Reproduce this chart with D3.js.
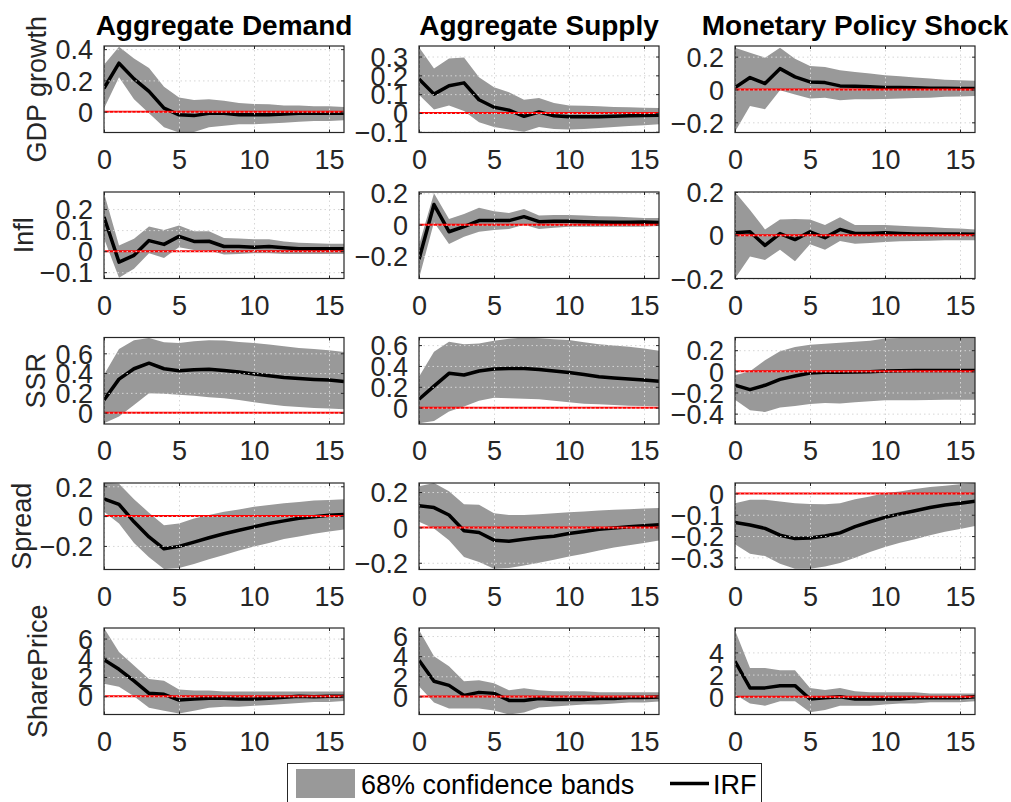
<!DOCTYPE html>
<html>
<head>
<meta charset="utf-8">
<script src="https://cdn.jsdelivr.net/npm/d3@7"></script>
<style>
  body { margin: 0; background: #fff; }
  text { font-family: "Liberation Sans", Arial, Helvetica, sans-serif; fill: #262626; }
</style>
</head>
<body>
<svg id="chart" width="1011" height="802"></svg>
<script>

// horizons (quarters after the shock)
var horizons = [0, 1, 2, 3, 4, 5, 6, 7, 8, 9, 10, 11, 12, 13, 14, 15, 16];
var xTicks = [0, 5, 10, 15];

var shocks    = ["Aggregate Demand", "Aggregate Supply", "Monetary Policy Shock"];
var variables = ["GDP growth", "Infl", "SSR", "Spread", "SharePrice"];

// ---- GDP growth ----
var gdpAD_irf = [0.15, 0.31, 0.21, 0.13, 0.023, -0.02, -0.025, -0.01, -0.01, -0.02, -0.02, -0.02, -0.015, -0.01, -0.01, -0.01, -0.01];
var gdpAD_hi  = [0.30, 0.415, 0.34, 0.28, 0.16, 0.09, 0.075, 0.08, 0.07, 0.055, 0.05, 0.048, 0.04, 0.04, 0.035, 0.035, 0.03];
var gdpAD_lo  = [0.02, 0.22, 0.08, -0.01, -0.10, -0.133, -0.13, -0.10, -0.09, -0.08, -0.08, -0.075, -0.07, -0.065, -0.06, -0.06, -0.055];

var gdpAS_irf = [0.18, 0.10, 0.145, 0.16, 0.07, 0.03, 0.015, -0.018, 0.005, -0.015, -0.02, -0.02, -0.02, -0.018, -0.015, -0.013, -0.012];
var gdpAS_hi  = [0.35, 0.237, 0.29, 0.295, 0.19, 0.137, 0.11, 0.07, 0.08, 0.053, 0.04, 0.038, 0.035, 0.032, 0.03, 0.028, 0.026];
var gdpAS_lo  = [0.097, 0.018, 0.04, 0.01, -0.05, -0.075, -0.088, -0.10, -0.075, -0.085, -0.088, -0.085, -0.08, -0.075, -0.07, -0.065, -0.06];

var gdpMP_irf = [0.012, 0.073, 0.036, 0.127, 0.077, 0.046, 0.042, 0.022, 0.02, 0.016, 0.012, 0.012, 0.01, 0.008, 0.007, 0.006, 0.006];
var gdpMP_hi  = [0.255, 0.224, 0.194, 0.255, 0.188, 0.143, 0.137, 0.117, 0.107, 0.097, 0.087, 0.08, 0.073, 0.067, 0.06, 0.056, 0.053];
var gdpMP_lo  = [-0.257, -0.10, -0.12, -0.004, -0.03, -0.055, -0.05, -0.065, -0.06, -0.059, -0.058, -0.055, -0.052, -0.05, -0.044, -0.042, -0.04];

// ---- Inflation ----
var inflAD_irf = [0.162, -0.052, -0.02, 0.05, 0.032, 0.07, 0.046, 0.047, 0.022, 0.022, 0.019, 0.022, 0.016, 0.011, 0.011, 0.011, 0.011];
var inflAD_hi  = [0.276, 0.027, 0.059, 0.117, 0.10, 0.122, 0.094, 0.094, 0.063, 0.06, 0.056, 0.056, 0.046, 0.04, 0.037, 0.035, 0.035];
var inflAD_lo  = [0.06, -0.127, -0.084, -0.01, -0.032, 0.019, 0.006, 0.003, -0.016, -0.013, -0.01, -0.01, -0.013, -0.013, -0.013, -0.013, -0.013];

var inflAS_irf = [-0.22, 0.128, -0.045, -0.013, 0.026, 0.026, 0.026, 0.051, 0.019, 0.021, 0.021, 0.019, 0.017, 0.015, 0.015, 0.017, 0.013];
var inflAS_hi  = [-0.13, 0.20, 0.036, 0.068, 0.107, 0.086, 0.075, 0.10, 0.058, 0.062, 0.062, 0.058, 0.054, 0.052, 0.047, 0.043, 0.043];
var inflAS_lo  = [-0.343, 0.015, -0.124, -0.077, -0.045, -0.034, -0.028, 0.0, -0.028, -0.02, -0.013, -0.013, -0.013, -0.013, -0.013, -0.013, -0.009];

var inflMP_irf = [0.011, 0.016, -0.047, 0.008, -0.02, 0.016, -0.011, 0.027, 0.008, 0.008, 0.011, 0.008, 0.006, 0.006, 0.006, 0.006, 0.005];
var inflMP_hi  = [0.2, 0.117, 0.027, 0.073, 0.075, 0.073, 0.047, 0.083, 0.047, 0.047, 0.047, 0.044, 0.041, 0.038, 0.034, 0.031, 0.027];
var inflMP_lo  = [-0.2, -0.098, -0.114, -0.067, -0.12, -0.042, -0.067, -0.027, -0.039, -0.036, -0.031, -0.028, -0.027, -0.025, -0.023, -0.023, -0.023];

// ---- SSR ----
var ssrAD_irf = [0.129, 0.339, 0.444, 0.5, 0.444, 0.424, 0.434, 0.44, 0.427, 0.41, 0.39, 0.373, 0.356, 0.346, 0.336, 0.329, 0.315];
var ssrAD_hi  = [0.383, 0.644, 0.732, 0.756, 0.712, 0.705, 0.722, 0.732, 0.729, 0.715, 0.705, 0.688, 0.671, 0.654, 0.644, 0.631, 0.614];
var ssrAD_lo  = [-0.108, -0.04, 0.078, 0.197, 0.19, 0.18, 0.17, 0.156, 0.146, 0.129, 0.105, 0.085, 0.068, 0.058, 0.047, 0.041, 0.034];

var ssrAS_irf = [0.08, 0.207, 0.329, 0.313, 0.351, 0.37, 0.376, 0.376, 0.367, 0.351, 0.338, 0.319, 0.297, 0.284, 0.274, 0.265, 0.252];
var ssrAS_hi  = [0.297, 0.536, 0.632, 0.609, 0.616, 0.641, 0.66, 0.673, 0.667, 0.657, 0.648, 0.628, 0.609, 0.597, 0.584, 0.568, 0.545];
var ssrAS_lo  = [-0.15, -0.128, -0.038, 0.01, 0.067, 0.096, 0.089, 0.086, 0.08, 0.067, 0.051, 0.038, 0.032, 0.026, 0.019, 0.016, 0.013];

var ssrMP_irf = [-0.132, -0.173, -0.132, -0.076, -0.044, -0.016, -0.009, -0.009, -0.006, -0.003, 0.003, 0.006, 0.009, 0.009, 0.009, 0.009, 0.009];
var ssrMP_hi  = [-0.038, 0.0, 0.104, 0.189, 0.23, 0.252, 0.26, 0.27, 0.28, 0.29, 0.31, 0.315, 0.318, 0.315, 0.315, 0.315, 0.315];
var ssrMP_lo  = [-0.268, -0.369, -0.384, -0.343, -0.328, -0.309, -0.30, -0.305, -0.293, -0.283, -0.274, -0.274, -0.274, -0.271, -0.268, -0.268, -0.268];

// ---- Spread ----
var sprAD_irf = [0.115, 0.079, -0.038, -0.14, -0.219, -0.203, -0.174, -0.145, -0.118, -0.095, -0.072, -0.05, -0.032, -0.014, -0.005, 0.005, 0.011];
var sprAD_hi  = [0.222, 0.217, 0.113, 0.023, -0.061, -0.05, -0.016, 0.007, 0.029, 0.045, 0.063, 0.075, 0.086, 0.095, 0.104, 0.108, 0.113];
var sprAD_lo  = [0.029, -0.05, -0.181, -0.276, -0.355, -0.348, -0.321, -0.289, -0.26, -0.23, -0.203, -0.181, -0.154, -0.136, -0.118, -0.104, -0.09];

var sprAS_irf = [0.122, 0.112, 0.07, -0.019, -0.029, -0.072, -0.078, -0.067, -0.057, -0.05, -0.034, -0.023, -0.011, -0.004, 0.004, 0.01, 0.015];
var sprAS_hi  = [0.232, 0.251, 0.204, 0.131, 0.128, 0.08, 0.07, 0.07, 0.074, 0.08, 0.086, 0.09, 0.095, 0.1, 0.103, 0.107, 0.11];
var sprAS_lo  = [0.032, -0.006, -0.072, -0.168, -0.196, -0.234, -0.229, -0.215, -0.2, -0.183, -0.164, -0.149, -0.13, -0.114, -0.101, -0.088, -0.074];

var sprMP_irf = [-0.136, -0.148, -0.164, -0.196, -0.212, -0.209, -0.2, -0.185, -0.156, -0.133, -0.112, -0.096, -0.081, -0.066, -0.054, -0.046, -0.036];
var sprMP_hi  = [-0.046, -0.03, -0.03, -0.038, -0.046, -0.049, -0.051, -0.046, -0.027, -0.014, 0.002, 0.009, 0.021, 0.03, 0.036, 0.043, 0.049];
var sprMP_lo  = [-0.239, -0.283, -0.294, -0.33, -0.354, -0.354, -0.343, -0.327, -0.302, -0.275, -0.251, -0.232, -0.215, -0.196, -0.18, -0.167, -0.153];

// ---- Share price ----
var spAD_irf = [3.8, 2.8, 1.6, 0.3, 0.2, -0.4, -0.3, -0.2, -0.2, -0.3, -0.3, -0.2, -0.1, 0.0, -0.05, 0.0, 0.0];
var spAD_hi  = [7.1, 4.6, 3.2, 1.8, 1.6, 0.7, 0.6, 0.6, 0.5, 0.5, 0.5, 0.5, 0.5, 0.5, 0.5, 0.5, 0.5];
var spAD_lo  = [1.3, 1.0, 0.0, -1.2, -1.5, -1.8, -1.5, -1.2, -1.1, -1.1, -1.0, -0.9, -0.8, -0.7, -0.6, -0.6, -0.5];

var spAS_irf = [3.6, 1.5, 1.1, 0.1, 0.4, 0.3, -0.4, -0.4, -0.2, -0.3, -0.3, -0.3, -0.2, -0.2, -0.1, -0.1, -0.05];
var spAS_hi  = [6.6, 4.0, 3.0, 1.5, 1.6, 1.3, 0.6, 0.8, 0.6, 0.5, 0.5, 0.5, 0.4, 0.4, 0.4, 0.4, 0.4];
var spAS_lo  = [1.0, -0.6, -1.2, -1.2, -1.2, -1.4, -1.8, -1.6, -1.1, -1.0, -0.9, -0.8, -0.8, -0.7, -0.6, -0.6, -0.5];

var spMP_irf = [3.2, 0.8, 0.8, 1.0, 1.0, -0.2, -0.1, 0.0, -0.2, -0.2, -0.2, -0.2, -0.1, -0.1, -0.1, -0.1, 0.0];
var spMP_hi  = [6.0, 2.6, 2.6, 2.4, 2.4, 0.8, 0.6, 0.8, 0.5, 0.4, 0.4, 0.4, 0.4, 0.3, 0.3, 0.3, 0.3];
var spMP_lo  = [0.2, -0.6, -0.8, -0.4, -0.4, -1.4, -1.2, -0.8, -0.8, -0.8, -0.7, -0.6, -0.6, -0.5, -0.5, -0.5, -0.4];

// y limits and y ticks, one entry per panel (row by row)
var yLimits = [
  [-0.133, 0.42], [-0.104, 0.356], [-0.262, 0.265],
  [-0.13, 0.281], [-0.343, 0.208], [-0.2, 0.2],
  [-0.115, 0.76], [-0.157, 0.673], [-0.498, 0.32],
  [-0.358, 0.222], [-0.238, 0.251], [-0.357, 0.049],
  [-1.9, 7.1], [-1.8, 6.8], [-1.6, 6.2]
];
var yTicks = [
  [0, 0.2, 0.4], [-0.1, 0, 0.1, 0.2, 0.3], [-0.2, 0, 0.2],
  [-0.1, 0, 0.1, 0.2], [-0.2, 0, 0.2], [-0.2, 0, 0.2],
  [0, 0.2, 0.4, 0.6], [0, 0.2, 0.4, 0.6], [-0.4, -0.2, 0, 0.2],
  [-0.2, 0, 0.2], [-0.2, 0, 0.2], [-0.3, -0.2, -0.1, 0],
  [0, 2, 4, 6], [0, 2, 4, 6], [0, 2, 4]
];

var panelSeries = [
  [gdpAD_irf, gdpAD_lo, gdpAD_hi], [gdpAS_irf, gdpAS_lo, gdpAS_hi], [gdpMP_irf, gdpMP_lo, gdpMP_hi],
  [inflAD_irf, inflAD_lo, inflAD_hi], [inflAS_irf, inflAS_lo, inflAS_hi], [inflMP_irf, inflMP_lo, inflMP_hi],
  [ssrAD_irf, ssrAD_lo, ssrAD_hi], [ssrAS_irf, ssrAS_lo, ssrAS_hi], [ssrMP_irf, ssrMP_lo, ssrMP_hi],
  [sprAD_irf, sprAD_lo, sprAD_hi], [sprAS_irf, sprAS_lo, sprAS_hi], [sprMP_irf, sprMP_lo, sprMP_hi],
  [spAD_irf, spAD_lo, spAD_hi], [spAS_irf, spAS_lo, spAS_hi], [spMP_irf, spMP_lo, spMP_hi]
];

// layout
var colLeft = [104, 419, 735];
var rowTop  = [46, 192, 337.5, 483, 628];
var plotW = 240, plotH = 86.5;
var yLabelX = [46, 33, 45, 31, 47];

var svg = d3.select("#chart");
var defs = svg.append("defs");

function fmt(v) { return v === 0 ? "0" : d3.format("")(v); }

panelSeries.forEach(function (series, k) {

  var row = Math.floor(k / 3), col = k % 3;
  var x = d3.scaleLinear().domain([0, 16]).range([0, plotW]);
  var y = d3.scaleLinear().domain(yLimits[k]).range([plotH, 0]);

  var data = horizons.map(function (h, i) {
    return {h: h, irf: series[0][i], lo: series[1][i], hi: series[2][i]};
  });

  var g = svg.append("g")
    .attr("transform", "translate(" + colLeft[col] + "," + rowTop[row] + ")");

  defs.append("clipPath").attr("id", "clip" + k)
    .append("rect").attr("width", plotW).attr("height", plotH);

  var inner = g.append("g").attr("clip-path", "url(#clip" + k + ")");

  var band = d3.area()
    .x(function (d) { return x(d.h); })
    .y0(function (d) { return y(d.lo); })
    .y1(function (d) { return y(d.hi); });

  var line = d3.line()
    .x(function (d) { return x(d.h); })
    .y(function (d) { return y(d.irf); });

  inner.append("path").datum(data)
    .attr("d", band)
    .attr("fill", "#999999");

  inner.append("path").datum(data)
    .attr("d", line)
    .attr("fill", "none")
    .attr("stroke", "#000")
    .attr("stroke-width", 3.5)
    .attr("stroke-linejoin", "round");

  inner.append("line")
    .attr("x1", 0).attr("x2", plotW)
    .attr("y1", y(0)).attr("y2", y(0))
    .attr("stroke", "#ff0000")
    .attr("stroke-width", 2);

  // dotted grid on top
  var xGrid = d3.axisBottom(x).tickValues(xTicks).tickSize(-plotH).tickFormat("");
  var yGrid = d3.axisLeft(y).tickValues(yTicks[k]).tickSize(-plotW).tickFormat("");

  g.append("g").attr("transform", "translate(0," + plotH + ")").call(xGrid);
  g.append("g").call(yGrid);
  g.selectAll(".tick line")
    .attr("stroke", "#d6d6d6")
    .attr("stroke-width", 1)
    .attr("stroke-dasharray", "1.5,3");
  g.selectAll(".domain").remove();

  // inward tick marks on all four sides
  var tl = 3;
  var marks = g.append("g").attr("class", "marks");
  marks.append("g").attr("transform", "translate(0," + plotH + ")")
    .call(d3.axisBottom(x).tickValues(xTicks).tickSize(-tl).tickFormat(""));
  marks.append("g")
    .call(d3.axisTop(x).tickValues(xTicks).tickSize(-tl).tickFormat(""));
  marks.append("g")
    .call(d3.axisLeft(y).tickValues(yTicks[k]).tickSize(-tl).tickFormat(""));
  marks.append("g").attr("transform", "translate(" + plotW + ",0)")
    .call(d3.axisRight(y).tickValues(yTicks[k]).tickSize(-tl).tickFormat(""));
  marks.selectAll(".domain").remove();
  marks.selectAll("line").attr("stroke", "#262626").attr("stroke-width", 1);

  g.append("rect")
    .attr("x", 0).attr("y", 0)
    .attr("width", plotW).attr("height", plotH)
    .attr("fill", "none")
    .attr("stroke", "#262626")
    .attr("stroke-width", 1.2);

  // tick labels
  var xLab = g.append("g").attr("transform", "translate(0," + plotH + ")")
    .call(d3.axisBottom(x).tickValues(xTicks).tickSize(0).tickPadding(0).tickFormat(d3.format("d")));
  xLab.select(".domain").remove();
  xLab.selectAll("text")
    .attr("y", 36).attr("dy", null)
    .attr("font-size", 27)
    .attr("fill", "#262626");

  var yLab = g.append("g")
    .call(d3.axisLeft(y).tickValues(yTicks[k]).tickSize(0).tickPadding(11).tickFormat(fmt));
  yLab.select(".domain").remove();
  yLab.selectAll("text")
    .attr("dy", "0.36em")
    .attr("font-size", 27)
    .attr("fill", "#262626");

  if (row === 0) {
    g.append("text")
      .attr("x", plotW / 2).attr("y", -11)
      .attr("text-anchor", "middle")
      .attr("font-size", 28)
      .attr("font-weight", "bold")
      .style("fill", "#000")
      .text(shocks[col]);
  }

  if (col === 0) {
    svg.append("text")
      .attr("transform", "translate(" + yLabelX[row] + "," + (rowTop[row] + plotH / 2) + ") rotate(-90)")
      .attr("text-anchor", "middle")
      .attr("font-size", 27)
      .text(variables[row]);
  }
});

// legend
var leg = svg.append("g");
leg.append("rect")
  .attr("x", 287.5).attr("y", 763.5)
  .attr("width", 474).attr("height", 60)
  .attr("fill", "#fff")
  .attr("stroke", "#262626")
  .attr("stroke-width", 1);
leg.append("rect")
  .attr("x", 296).attr("y", 769)
  .attr("width", 59).attr("height", 29)
  .attr("fill", "#999999");
leg.append("text")
  .attr("x", 361).attr("y", 794)
  .attr("font-size", 27)
  .style("fill", "#000")
  .text("68% confidence bands");
leg.append("line")
  .attr("x1", 670).attr("x2", 709)
  .attr("y1", 783.5).attr("y2", 783.5)
  .attr("stroke", "#000")
  .attr("stroke-width", 3.5);
leg.append("text")
  .attr("x", 713).attr("y", 794)
  .attr("font-size", 27)
  .style("fill", "#000")
  .text("IRF");

</script>
</body>
</html>
